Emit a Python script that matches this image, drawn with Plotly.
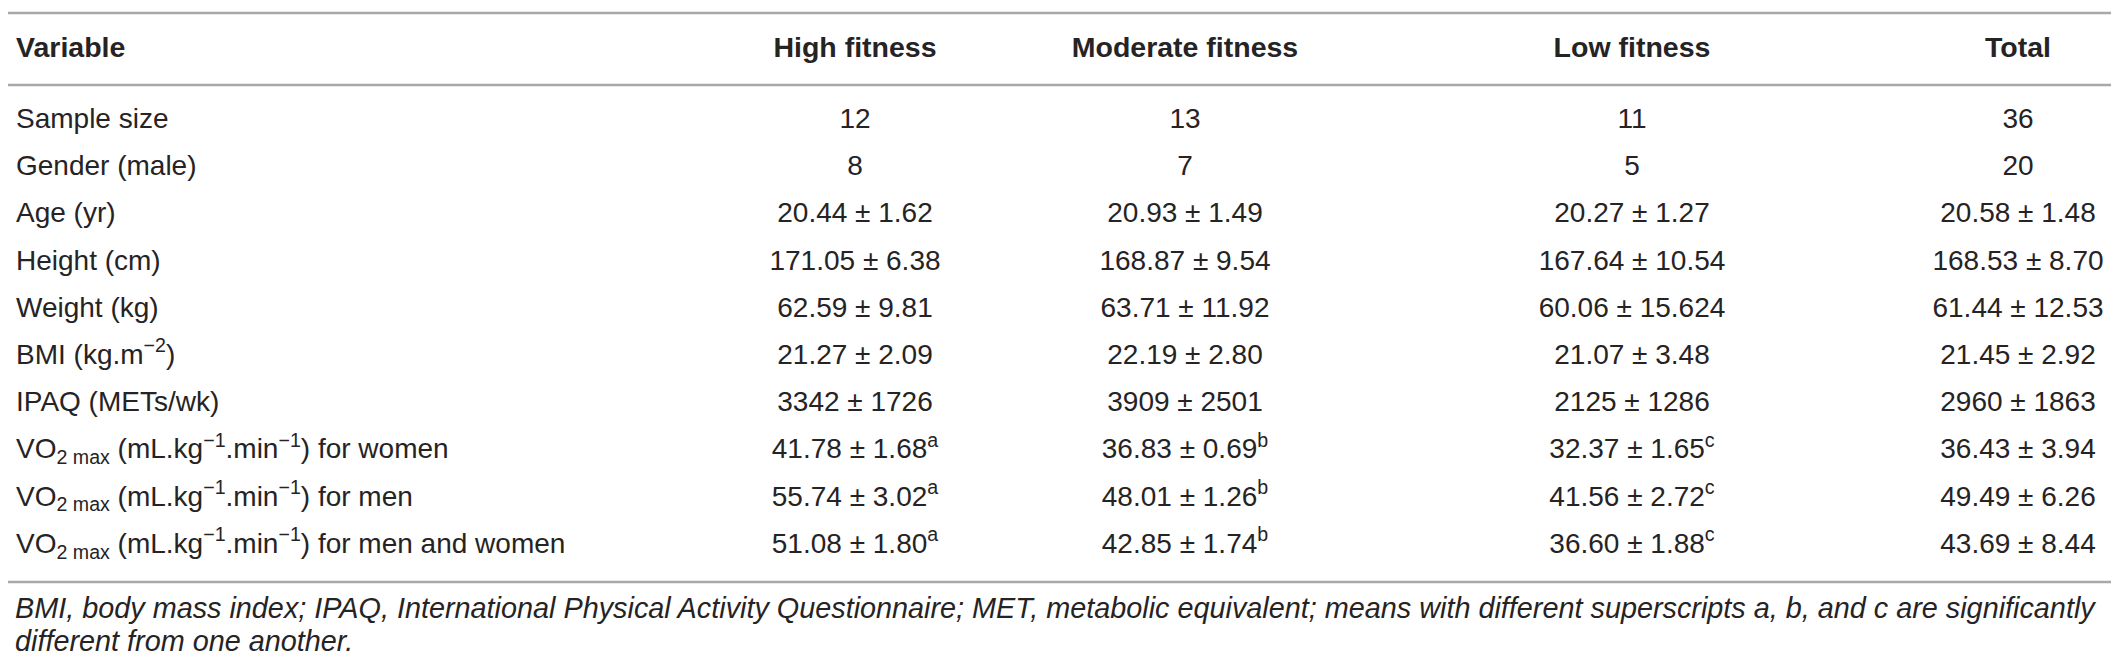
import plotly.graph_objects as go

# table content
variables = [
    "Sample size",
    "Gender (male)",
    "Age (yr)",
    "Height (cm)",
    "Weight (kg)",
    "BMI (kg.m<sup>−2</sup>)",
    "IPAQ (METs/wk)",
    "VO<sub>2 max</sub> (mL.kg<sup>−1</sup>.min<sup>−1</sup>) for women",
    "VO<sub>2 max</sub> (mL.kg<sup>−1</sup>.min<sup>−1</sup>) for men",
    "VO<sub>2 max</sub> (mL.kg<sup>−1</sup>.min<sup>−1</sup>) for men and women",
]
high_fitness = ["12", "8", "20.44 ± 1.62", "171.05 ± 6.38", "62.59 ± 9.81",
                "21.27 ± 2.09", "3342 ± 1726", "41.78 ± 1.68<sup>a</sup>",
                "55.74 ± 3.02<sup>a</sup>", "51.08 ± 1.80<sup>a</sup>"]
moderate_fitness = ["13", "7", "20.93 ± 1.49", "168.87 ± 9.54", "63.71 ± 11.92",
                    "22.19 ± 2.80", "3909 ± 2501", "36.83 ± 0.69<sup>b</sup>",
                    "48.01 ± 1.26<sup>b</sup>", "42.85 ± 1.74<sup>b</sup>"]
low_fitness = ["11", "5", "20.27 ± 1.27", "167.64 ± 10.54", "60.06 ± 15.624",
               "21.07 ± 3.48", "2125 ± 1286", "32.37 ± 1.65<sup>c</sup>",
               "41.56 ± 2.72<sup>c</sup>", "36.60 ± 1.88<sup>c</sup>"]
total = ["36", "20", "20.58 ± 1.48", "168.53 ± 8.70", "61.44 ± 12.53",
         "21.45 ± 2.92", "2960 ± 1863", "36.43 ± 3.94", "49.49 ± 6.26",
         "43.69 ± 8.44"]
headers = ["Variable", "High fitness", "Moderate fitness", "Low fitness", "Total"]
footnote_lines = [
    "BMI, body mass index; IPAQ, International Physical Activity Questionnaire; "
    "MET, metabolic equivalent; means with different superscripts a, b, and c are significantly",
    "different from one another.",
]

W, H = 2119, 655
FONT = "Liberation Sans"
TXT = "#262324"
RULE = "#a8a8a8"

col_x = [8, 847, 1177, 1624, 2010]
header_y = 42
row_y0, row_step = 113, 47.2
rows_y = [row_y0 + i * row_step for i in range(len(variables))]

fig = go.Figure()

columns = [variables, high_fitness, moderate_fitness, low_fitness, total]
for i, col in enumerate(columns):
    fig.add_trace(go.Scatter(
        x=[col_x[i]] * len(col), y=rows_y, mode="text", text=col,
        textposition="middle right" if i == 0 else "middle center",
        textfont=dict(family=FONT, size=28, color=TXT),
        hoverinfo="skip", showlegend=False,
    ))

fig.add_trace(go.Scatter(
    x=col_x, y=[header_y] * len(headers), mode="text",
    text=["<b>%s</b>" % h for h in headers],
    textposition=["middle right"] + ["middle center"] * 4,
    textfont=dict(family=FONT, size=28.5, color=TXT),
    hoverinfo="skip", showlegend=False,
))

# horizontal rules: top, under header, bottom
for yy in [5, 77, 574]:
    fig.add_shape(type="line", x0=0, x1=2112, y0=yy, y1=yy,
                  line=dict(color=RULE, width=2.5))

for k, line in enumerate(footnote_lines):
    fig.add_annotation(x=6, y=600 + 33 * k, xref="x", yref="y", text="<i>%s</i>" % line,
                       showarrow=False, xanchor="left", yanchor="middle", align="left",
                       borderpad=0, font=dict(family=FONT, size=28.8, color=TXT))

fig.update_layout(
    width=W, height=H, margin=dict(l=0, r=0, t=0, b=0),
    paper_bgcolor="white", plot_bgcolor="white",
    xaxis=dict(range=[0, W], visible=False, fixedrange=True),
    yaxis=dict(range=[H, 0], visible=False, fixedrange=True),
)

fig.write_html("out.html")
